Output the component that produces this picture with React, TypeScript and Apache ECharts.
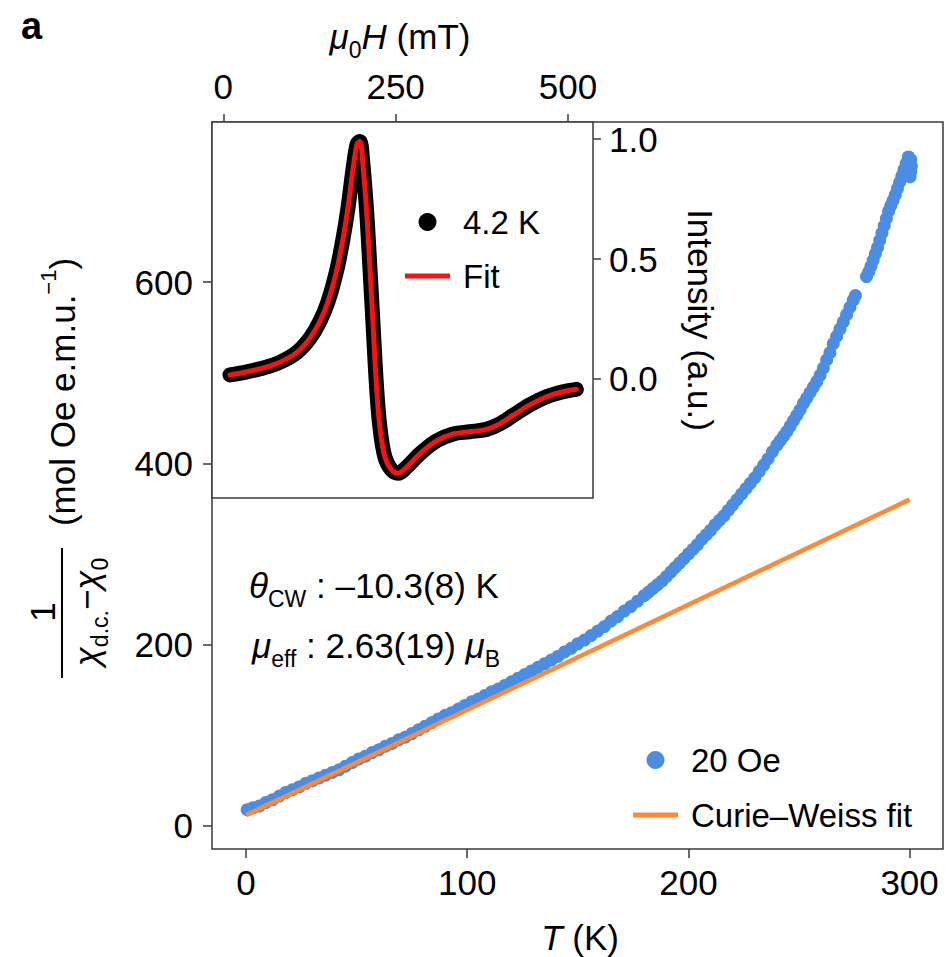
import React, { useEffect, useRef } from "react";
import * as echarts from "echarts";

// ---- main panel: inverse susceptibility vs temperature ----
const tempK = [
  0.5, 3, 6, 9, 12, 15, 18, 21, 24, 27, 30, 33, 36, 39, 42, 45, 48, 51, 54, 57, 60, 63, 66, 69, 72, 75, 78, 81, 84, 87,
  90, 93, 96, 99, 102, 105, 108, 111, 114, 117, 120, 123, 126, 129, 132, 135, 138, 141, 144, 147, 150, 153, 156, 159,
  162, 165, 168, 171, 174, 177, 180,
  182, 184, 186, 188, 190, 192, 194, 196, 198, 200, 202, 204, 206, 208, 210, 212, 214, 216, 218, 220, 222, 224, 226,
  228, 230, 232, 234, 236, 238, 240,
  241.5, 243, 244.5, 246, 247.5, 249, 250.5, 252, 253.5, 255, 256.5, 258, 259.5, 261, 262.5, 264, 265.5, 267, 268.5,
  270, 271.5, 273, 274.5, 275.5,
  280.5, 281.5, 282.5, 283.5, 284.5, 285.5, 286.5, 287.5, 288.5, 289.5, 290.5, 291.5, 292.5, 293.5, 294.5, 295.5,
  296.5, 297.5, 298.5, 299.5, 300.5, 300.8, 300.5, 300.2,
];
const invChi = [
  18, 20, 22, 26, 29, 33, 37, 40, 43, 47, 50, 53, 56, 59, 62, 66, 70, 74, 77, 81, 84, 88, 91, 95, 98, 102, 106, 110,
  114, 118, 122, 125, 129, 133, 137, 140, 144, 148, 151, 155, 159, 163, 167, 171, 175, 179, 183, 187, 192, 196, 201,
  205, 210, 215, 220, 226, 231, 237, 242, 248, 254,
  258, 262, 266, 270, 275, 280, 285, 290, 295, 300, 305, 310, 316, 321, 326, 332, 337, 342, 348, 354, 360, 366, 372,
  378, 384, 391, 398, 405, 413, 420,
  425, 430, 435, 441, 447, 453, 459, 466, 472, 478, 484, 490, 497, 505, 514, 522, 532, 540, 548, 556, 564, 572, 580,
  585,
  606, 611, 617, 624, 631, 638, 646, 654, 662, 670, 678, 684, 690, 696, 703, 710, 717, 724, 731, 738, 735, 728, 722,
  716,
];
const cwFitT = [0, 300];
const cwFitY = [12, 360];
const tempTicks = [0, 100, 200, 300];
const invChiTicks = [0, 200, 400, 600];

// ---- inset: EPR spectrum ----
const fieldMT = [
  9.7, 33.9, 58, 82.2, 106.3, 125.6, 140.1, 152.2, 164.3, 174, 181.2, 188.4, 194.2, 198.1, 202, 207.8, 212.6, 217.4,
  222.3, 227.1, 234.3, 244, 253.6, 265.8, 285, 309.3, 333.3, 357.5, 381.7, 401, 420.3, 444.5, 468.7, 492.8, 512.2,
];
const intensityData = [
  0.017, 0.03, 0.046, 0.07, 0.11, 0.17, 0.24, 0.325, 0.45, 0.59, 0.72, 0.88, 0.98, 0.99, 0.912, 0.704,
  0.468, 0.218, -0.032, -0.199, -0.324, -0.379, -0.393, -0.368, -0.312, -0.258, -0.229, -0.22, -0.21, -0.187, -0.152,
  -0.108, -0.074, -0.053, -0.043,
];
const intensityFit = [
  0.017, 0.03, 0.046, 0.07, 0.11, 0.17, 0.24, 0.325, 0.45, 0.59, 0.72, 0.88, 0.98, 0.99, 0.912, 0.704,
  0.468, 0.218, -0.032, -0.199, -0.324, -0.379, -0.393, -0.368, -0.312, -0.258, -0.229, -0.22, -0.21, -0.187, -0.152,
  -0.108, -0.074, -0.053, -0.043,
];
const fieldTicks = [0, 250, 500];
const intensityTicks = [0, 0.5, 1];

const FONT = '"Liberation Sans", Arial, Helvetica, sans-serif';
const AXIS = "#3a3a3a";
const BLUE = "#4a8de2";
const ORANGE = "#ff8a36";
const RED = "#ff1010";
const FS = 35;
const LINE_ICON = "path://M0,0 M0,6.5 L45,6.5 L45,11.5 L0,11.5 Z M45,18";

const zip = (a: number[], b: number[]) => a.map((v, i) => [v, b[i]]);

const richBase = {
  i: { fontFamily: FONT, fontSize: FS, fontStyle: "italic", fill: "#000", lineHeight: 50, verticalAlign: "middle" },
  n: { fontFamily: FONT, fontSize: FS, fill: "#000", lineHeight: 50, verticalAlign: "middle" },
  s: { fontFamily: FONT, fontSize: 23, fill: "#000", lineHeight: 23, verticalAlign: "bottom" },
  sup: { fontFamily: FONT, fontSize: 22, fill: "#000", lineHeight: 22, verticalAlign: "top" },
};

const tickStyle = { lineStyle: { color: AXIS, width: 1.5 } };
const labelStyle = { fontSize: FS, color: "#000", fontFamily: FONT };
const noLine = { show: false, onZero: false };

export default function App() {
  const ref = useRef<HTMLDivElement>(null);
  useEffect(() => {
    const chart = echarts.init(ref.current!, null, { renderer: "svg" });
    const option: any = {
      animation: false,
      backgroundColor: "#fff",
      grid: [
        { left: 212, top: 122, right: 3, bottom: 108, show: true, borderColor: AXIS, borderWidth: 1.5, backgroundColor: "transparent" },
        { left: 212, top: 122, right: 353, bottom: 459, show: true, borderColor: AXIS, borderWidth: 1.5, backgroundColor: "#fff" },
      ],
      xAxis: [
        {
          gridIndex: 0, type: "value", position: "bottom", min: -15.4, max: 315.1,
          axisLine: noLine, splitLine: { show: false },
          axisTick: { show: true, inside: false, length: 9, customValues: tempTicks, ...tickStyle },
          axisLabel: { customValues: tempTicks, margin: 16, ...labelStyle },
        },
        {
          gridIndex: 1, type: "value", position: "top", min: -16.4, max: 536.3,
          axisLine: noLine, splitLine: { show: false },
          axisTick: { show: true, inside: false, length: 8, customValues: fieldTicks, ...tickStyle },
          axisLabel: { customValues: fieldTicks, margin: 18, ...labelStyle },
        },
      ],
      yAxis: [
        {
          gridIndex: 0, type: "value", position: "left", min: -25.4, max: 776.5,
          axisLine: noLine, splitLine: { show: false },
          axisTick: { show: true, inside: false, length: 9, customValues: invChiTicks, ...tickStyle },
          axisLabel: { customValues: invChiTicks, margin: 19, ...labelStyle },
        },
        {
          gridIndex: 1, type: "value", position: "right", min: -0.496, max: 1.071,
          axisLine: noLine, splitLine: { show: false },
          axisTick: { show: true, inside: false, length: 8, customValues: intensityTicks, ...tickStyle },
          axisLabel: { customValues: intensityTicks, margin: 16, formatter: (v: number) => v.toFixed(1), ...labelStyle },
        },
      ],
      legend: [
        {
          data: [{ name: "20 Oe", icon: "circle" }, { name: "Curie–Weiss fit", icon: LINE_ICON }],
          orient: "vertical", left: 628, top: 737, itemWidth: 45, itemHeight: 18, itemGap: 19,
          textStyle: { fontSize: 33, color: "#000", fontFamily: FONT, lineHeight: 36, padding: [0, 0, 0, 8] },
        },
        {
          data: [{ name: "4.2 K", icon: "circle" }, { name: "Fit", icon: LINE_ICON }],
          orient: "vertical", left: 400, top: 199, itemWidth: 45, itemHeight: 18, itemGap: 18,
          textStyle: { fontSize: 33, color: "#000", fontFamily: FONT, lineHeight: 36, padding: [0, 0, 0, 8] },
        },
      ],
      series: [
        {
          name: "20 Oe", type: "scatter", xAxisIndex: 0, yAxisIndex: 0,
          data: zip(tempK, invChi), symbolSize: 13, itemStyle: { color: BLUE, opacity: 1 }, z: 2,
        },
        {
          name: "Curie–Weiss fit", type: "line", xAxisIndex: 0, yAxisIndex: 0,
          data: zip(cwFitT, cwFitY), symbol: "none", lineStyle: { color: ORANGE, width: 4.5 },
          itemStyle: { color: ORANGE }, z: 3,
        },
        {
          name: "4.2 K", type: "line", xAxisIndex: 1, yAxisIndex: 1,
          data: zip(fieldMT, intensityData), symbol: "none", smooth: 0.35,
          lineStyle: { color: "#000", width: 15, cap: "round", join: "round" }, itemStyle: { color: "#000" }, z: 4,
        },
        {
          name: "Fit", type: "line", xAxisIndex: 1, yAxisIndex: 1,
          data: zip(fieldMT, intensityFit), symbol: "none", smooth: 0.35,
          lineStyle: { color: RED, width: 5, cap: "round", join: "round" }, itemStyle: { color: RED }, z: 5,
        },
      ],
      graphic: [
        { type: "text", x: 21, y: 26, style: { text: "a", font: `bold 38px ${FONT}`, fill: "#000", verticalAlign: "middle" } },
        {
          type: "text", x: 400, y: 36,
          style: { text: "{i|μ}{s|0}{i|H}{n| (mT)}", rich: richBase, align: "center", verticalAlign: "middle" },
        },
        {
          type: "text", x: 580, y: 937,
          style: { text: "{i|T}{n| (K)}", rich: richBase, align: "center", verticalAlign: "middle" },
        },
        {
          type: "text", x: 700, y: 320, rotation: -Math.PI / 2,
          style: { text: "Intensity (a.u.)", font: `${FS}px ${FONT}`, fill: "#000", align: "center", verticalAlign: "middle" },
        },
        {
          type: "text", x: 249, y: 585,
          style: { text: "{i|θ}{s|CW}{n| : –10.3(8) K}", rich: richBase, align: "left", verticalAlign: "middle" },
        },
        {
          type: "text", x: 252, y: 645,
          style: { text: "{i|μ}{s|eff}{n| : 2.63(19) }{i|μ}{s|B}", rich: richBase, align: "left", verticalAlign: "middle" },
        },
        {
          type: "text", x: 62, y: 392, rotation: Math.PI / 2,
          style: { text: "{n|(mol Oe e.m.u.}{sup|−1}{n|)}", rich: richBase, align: "center", verticalAlign: "middle" },
        },
        {
          type: "text", x: 42, y: 612, rotation: Math.PI / 2,
          style: { text: "1", font: `${FS}px ${FONT}`, fill: "#000", align: "center", verticalAlign: "middle" },
        },
        { type: "line", shape: { x1: 62, y1: 548, x2: 62, y2: 678 }, style: { stroke: "#000", lineWidth: 2 } },
        {
          type: "text", x: 86, y: 612, rotation: Math.PI / 2,
          style: { text: "{i|χ}{s|d.c.}{n|−}{i|χ}{s|0}", rich: richBase, align: "center", verticalAlign: "middle" },
        },
      ],
    };
    chart.setOption(option);
    return () => chart.dispose();
  }, []);
  return <div ref={ref} style={{ position: "absolute", left: 0, top: 0, width: 946, height: 957 }} />;
}
